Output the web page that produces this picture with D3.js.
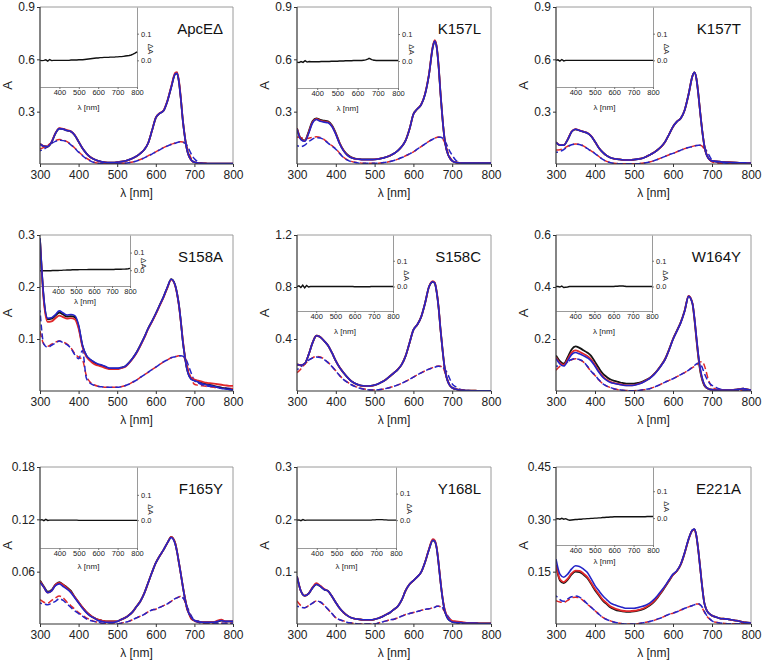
<!DOCTYPE html>
<html><head><meta charset="utf-8">
<script src="https://cdn.jsdelivr.net/npm/d3@7"></script>
<style>body{margin:0;background:#fff}svg{display:block}</style>
</head><body><svg id="c" width="763" height="663"></svg>
<script>
// ---------------- DATA ----------------
const wavelengths = [300,310,320,330,340,350,360,370,380,390,
 400,410,420,430,440,450,460,470,480,490,
 500,510,520,530,540,550,560,570,580,590,
 600,610,620,630,640,
 650,655,660,665,670,675,680,685,690,695,
 700,710,720,730,740,750,760,770,780,790,
 800];
const panelNames = ["ApcEΔ","K157L","K157T","S158A","S158C","W164Y","F165Y","Y168L","E221A"];
const yMaxValues = [0.9,0.9,0.9,0.3,1.2,0.6,0.18,0.3,0.45];
const yTickValues = [[0.3,0.6,0.9],[0.3,0.6,0.9],[0.3,0.6,0.9],[0.1,0.2,0.3],[0.4,0.8,1.2],[0.2,0.4,0.6],[0.06,0.12,0.18],[0.1,0.2,0.3],[0.15,0.30,0.45]];
const yTickDecimals = [1,1,1,1,1,1,2,1,2];
const xTickValues = [300,400,500,600,700,800];
const insetXTicks = [400,500,600,700,800];
const insetYTicks = [0.0,0.1];
const insetYMin = [-0.1,-0.1,-0.1,-0.09,-0.095,-0.095,-0.11,-0.105,-0.1];
const insetYMax = [0.2,0.2,0.2,0.2,0.2,0.2,0.21,0.2,0.19];

// ApcEΔ
const apcBlack = [0.115,0.102,0.100,0.125,0.175,0.203,0.200,0.192,0.186,0.165, 0.128,0.090,0.061,0.040,0.027,0.018,0.012,0.009,0.008,0.008, 0.010,0.013,0.017,0.024,0.033,0.045,0.061,0.082,0.119,0.190, 0.265,0.290,0.305,0.360,0.440, 0.515,0.520,0.470,0.370,0.250,0.160,0.090,0.050,0.028,0.016, 0.010,0.006,0.004,0.003,0.002,0.002,0.002,0.002,0.002,0.002, 0.002];
const apcRed = [0.116,0.103,0.101,0.127,0.177,0.206,0.202,0.194,0.187,0.166, 0.128,0.090,0.061,0.040,0.027,0.018,0.012,0.009,0.008,0.008, 0.010,0.013,0.017,0.024,0.033,0.045,0.061,0.082,0.119,0.190, 0.266,0.291,0.307,0.362,0.444, 0.522,0.527,0.476,0.374,0.252,0.161,0.091,0.050,0.028,0.016, 0.010,0.006,0.004,0.003,0.002,0.002,0.002,0.002,0.002,0.002, 0.002];
const apcBlue = [0.115,0.102,0.100,0.125,0.175,0.203,0.200,0.192,0.186,0.165, 0.128,0.090,0.061,0.040,0.027,0.018,0.012,0.009,0.008,0.008, 0.010,0.013,0.017,0.024,0.033,0.045,0.061,0.082,0.119,0.190, 0.265,0.290,0.305,0.360,0.440, 0.515,0.520,0.470,0.370,0.250,0.160,0.090,0.050,0.028,0.016, 0.010,0.006,0.004,0.003,0.002,0.002,0.002,0.002,0.002,0.002, 0.002];
const apcDashRed = [0.085,0.095,0.108,0.122,0.134,0.140,0.138,0.128,0.112,0.092, 0.070,0.050,0.033,0.020,0.010,0.005,0.003,0.002,0.001,0.001, 0.002,0.003,0.005,0.008,0.012,0.018,0.026,0.036,0.047,0.058, 0.070,0.082,0.094,0.104,0.113, 0.120,0.124,0.127,0.128,0.126,0.118,0.100,0.070,0.040,0.020, 0.010,0.004,0.002,0.001,0.001,0.001,0.001,0.001,0.001,0.001, 0.001];
const apcDashBlue = [0.075,0.085,0.100,0.118,0.130,0.136,0.134,0.126,0.110,0.090, 0.068,0.048,0.030,0.018,0.009,0.004,0.002,0.001,0.001,0.001, 0.001,0.002,0.004,0.007,0.011,0.017,0.025,0.035,0.046,0.057, 0.069,0.081,0.093,0.103,0.112, 0.119,0.123,0.126,0.127,0.125,0.120,0.110,0.090,0.065,0.045, 0.030,0.012,0.004,0.002,0.001,0.001,0.001,0.001,0.001,0.001, 0.001];
const apcDiff = [0.000,-0.001,0.000,0.002,-0.003,0.003,-0.001,0.000,0.000,0.000, 0.000,0.000,0.000,0.000,0.000,0.000,0.001,0.001,0.001,0.001, 0.002,0.002,0.002,0.003,0.004,0.005,0.006,0.007,0.008,0.009, 0.009,0.010,0.010,0.011,0.011, 0.011,0.011,0.012,0.012,0.012,0.012,0.012,0.012,0.013,0.013, 0.013,0.014,0.014,0.015,0.016,0.017,0.018,0.020,0.023,0.027, 0.032];

// K157L
const k157lBlack = [0.205,0.145,0.135,0.185,0.245,0.262,0.253,0.248,0.244,0.222, 0.177,0.120,0.079,0.053,0.038,0.031,0.028,0.026,0.026,0.026, 0.026,0.029,0.033,0.040,0.048,0.060,0.077,0.100,0.135,0.200, 0.285,0.315,0.340,0.400,0.510, 0.670,0.705,0.670,0.560,0.400,0.260,0.150,0.085,0.050,0.030, 0.018,0.009,0.006,0.005,0.005,0.005,0.005,0.005,0.005,0.005, 0.005];
const k157lRed = [0.203,0.143,0.133,0.180,0.240,0.258,0.249,0.244,0.240,0.218, 0.173,0.118,0.077,0.051,0.037,0.030,0.027,0.025,0.025,0.025, 0.026,0.029,0.033,0.040,0.048,0.060,0.077,0.100,0.135,0.200, 0.285,0.315,0.341,0.402,0.512, 0.675,0.710,0.674,0.562,0.401,0.260,0.150,0.085,0.050,0.030, 0.018,0.009,0.006,0.005,0.005,0.005,0.005,0.005,0.005,0.005, 0.005];
const k157lBlue = [0.200,0.140,0.130,0.175,0.235,0.255,0.245,0.240,0.236,0.215, 0.170,0.115,0.075,0.050,0.036,0.030,0.027,0.025,0.025,0.025, 0.026,0.029,0.033,0.040,0.048,0.060,0.077,0.100,0.135,0.200, 0.285,0.315,0.340,0.400,0.510, 0.670,0.705,0.670,0.560,0.400,0.260,0.150,0.085,0.050,0.030, 0.018,0.009,0.006,0.005,0.005,0.005,0.005,0.005,0.005,0.005, 0.005];
const k157lDashRed = [0.155,0.150,0.146,0.148,0.153,0.156,0.152,0.140,0.122,0.105, 0.087,0.062,0.039,0.024,0.015,0.010,0.007,0.005,0.004,0.004, 0.004,0.005,0.007,0.010,0.014,0.020,0.028,0.037,0.047,0.058, 0.070,0.085,0.100,0.115,0.130, 0.143,0.148,0.152,0.155,0.154,0.145,0.126,0.095,0.060,0.035, 0.020,0.008,0.004,0.003,0.003,0.003,0.003,0.003,0.003,0.003, 0.003];
const k157lDashBlue = [0.105,0.100,0.108,0.128,0.143,0.151,0.149,0.138,0.120,0.103, 0.085,0.060,0.037,0.022,0.013,0.008,0.005,0.004,0.004,0.004, 0.004,0.005,0.007,0.010,0.014,0.020,0.028,0.037,0.047,0.058, 0.070,0.085,0.100,0.115,0.130, 0.142,0.147,0.151,0.154,0.153,0.148,0.135,0.115,0.090,0.068, 0.050,0.020,0.008,0.004,0.003,0.003,0.003,0.003,0.003,0.003, 0.003];
const k157lDiff = [-0.004,-0.006,-0.002,-0.005,0.001,-0.004,-0.002,-0.003,-0.003,-0.003, -0.003,-0.003,-0.002,-0.002,-0.002,-0.002,-0.002,-0.001,-0.001,-0.001, -0.001,0.000,0.000,0.000,0.001,0.001,0.001,0.001,0.002,0.002, 0.002,0.002,0.002,0.003,0.004, 0.007,0.009,0.009,0.007,0.005,0.004,0.003,0.003,0.002,0.002, 0.002,0.002,0.002,0.002,0.002,0.002,0.002,0.002,0.002,0.002, 0.002];

// K157T
const k157tBlack = [0.124,0.108,0.108,0.140,0.185,0.199,0.192,0.185,0.178,0.160, 0.128,0.092,0.067,0.048,0.036,0.030,0.027,0.024,0.023,0.023, 0.025,0.028,0.032,0.040,0.052,0.064,0.080,0.100,0.128,0.170, 0.214,0.243,0.262,0.310,0.400, 0.505,0.525,0.490,0.400,0.290,0.190,0.110,0.060,0.035,0.023, 0.018,0.015,0.013,0.011,0.010,0.009,0.008,0.007,0.007,0.006, 0.006];
const k157tRed = [0.125,0.109,0.109,0.141,0.186,0.200,0.193,0.186,0.179,0.161, 0.128,0.092,0.067,0.048,0.036,0.030,0.027,0.024,0.023,0.023, 0.025,0.028,0.032,0.040,0.052,0.064,0.080,0.100,0.128,0.170, 0.214,0.243,0.262,0.310,0.400, 0.505,0.525,0.490,0.400,0.290,0.190,0.110,0.060,0.035,0.023, 0.018,0.015,0.013,0.011,0.010,0.009,0.008,0.007,0.007,0.006, 0.006];
const k157tBlue = [0.124,0.108,0.108,0.140,0.185,0.199,0.192,0.185,0.178,0.160, 0.128,0.092,0.067,0.048,0.036,0.030,0.027,0.024,0.023,0.023, 0.025,0.028,0.032,0.040,0.052,0.064,0.080,0.100,0.128,0.170, 0.214,0.243,0.262,0.310,0.400, 0.505,0.525,0.490,0.400,0.290,0.190,0.110,0.060,0.035,0.023, 0.018,0.015,0.013,0.011,0.010,0.009,0.008,0.007,0.007,0.006, 0.006];
const k157tDashRed = [0.080,0.082,0.090,0.102,0.112,0.115,0.113,0.104,0.090,0.075, 0.061,0.043,0.027,0.015,0.008,0.004,0.002,0.001,0.001,0.001, 0.001,0.002,0.004,0.007,0.012,0.018,0.026,0.035,0.044,0.053, 0.061,0.070,0.079,0.088,0.095, 0.101,0.104,0.107,0.109,0.108,0.102,0.085,0.062,0.040,0.022, 0.013,0.007,0.004,0.003,0.003,0.003,0.003,0.003,0.003,0.003, 0.003];
const k157tDashBlue = [0.067,0.072,0.083,0.098,0.110,0.114,0.112,0.103,0.089,0.074, 0.060,0.042,0.026,0.014,0.007,0.003,0.002,0.001,0.001,0.001, 0.001,0.002,0.004,0.007,0.012,0.018,0.026,0.035,0.044,0.053, 0.061,0.070,0.079,0.088,0.095, 0.100,0.103,0.106,0.108,0.107,0.104,0.095,0.080,0.060,0.040, 0.023,0.013,0.008,0.005,0.004,0.003,0.003,0.003,0.003,0.003, 0.003];
const k157tDiff = [0.000,0.002,-0.003,0.003,-0.002,0.000,0.000,0.000,0.000,0.000, 0.000,0.000,0.000,0.000,0.000,0.000,0.000,0.000,0.000,0.000, 0.000,0.000,0.000,0.000,0.000,0.000,0.000,0.000,0.000,0.000, 0.000,0.000,0.000,0.000,0.000, 0.000,0.000,0.000,0.000,0.000,0.000,0.000,0.000,0.000,0.000, 0.000,0.000,0.000,0.000,0.000,0.000,0.000,0.000,0.000,0.000, 0.000];

// S158A
const s158aBlack = [0.292,0.176,0.138,0.139,0.145,0.151,0.147,0.143,0.144,0.142, 0.124,0.087,0.068,0.060,0.055,0.051,0.049,0.046,0.043,0.043, 0.043,0.045,0.047,0.054,0.063,0.074,0.088,0.103,0.120,0.134, 0.149,0.165,0.181,0.199,0.215, 0.204,0.188,0.165,0.133,0.096,0.068,0.045,0.032,0.025,0.022, 0.021,0.018,0.015,0.013,0.012,0.010,0.008,0.006,0.005,0.003, 0.002];
const s158aRed = [0.290,0.172,0.133,0.134,0.140,0.145,0.142,0.139,0.140,0.138, 0.120,0.085,0.066,0.058,0.052,0.049,0.047,0.044,0.042,0.042, 0.042,0.044,0.046,0.053,0.062,0.073,0.087,0.102,0.119,0.133, 0.148,0.164,0.180,0.199,0.214, 0.203,0.187,0.164,0.132,0.098,0.069,0.047,0.034,0.027,0.024, 0.022,0.020,0.018,0.016,0.015,0.014,0.013,0.012,0.011,0.010, 0.010];
const s158aBlue = [0.294,0.178,0.140,0.141,0.147,0.154,0.150,0.146,0.147,0.145, 0.127,0.088,0.069,0.061,0.056,0.052,0.050,0.047,0.044,0.044, 0.044,0.045,0.047,0.054,0.063,0.074,0.088,0.103,0.120,0.134, 0.149,0.165,0.181,0.200,0.215, 0.204,0.188,0.165,0.133,0.095,0.068,0.044,0.031,0.024,0.021, 0.020,0.017,0.014,0.012,0.011,0.009,0.007,0.005,0.004,0.003, 0.002];
const s158aDashRed = [0.115,0.090,0.086,0.090,0.094,0.096,0.094,0.090,0.083,0.072, 0.065,0.060,0.030,0.017,0.012,0.009,0.008,0.007,0.007,0.007, 0.007,0.008,0.010,0.013,0.017,0.021,0.026,0.031,0.036,0.041, 0.046,0.051,0.056,0.060,0.064, 0.066,0.067,0.068,0.068,0.067,0.062,0.052,0.038,0.026,0.018, 0.013,0.011,0.010,0.009,0.008,0.007,0.006,0.006,0.005,0.005, 0.005];
const s158aDashBlue = [0.155,0.090,0.084,0.088,0.092,0.096,0.093,0.089,0.082,0.070, 0.062,0.078,0.025,0.015,0.011,0.009,0.008,0.007,0.007,0.007, 0.007,0.008,0.010,0.013,0.017,0.021,0.026,0.031,0.036,0.041, 0.046,0.051,0.056,0.060,0.064, 0.066,0.067,0.068,0.068,0.067,0.064,0.058,0.048,0.038,0.028, 0.020,0.015,0.012,0.010,0.009,0.008,0.007,0.007,0.006,0.005, 0.005];
const s158aDiff = [-0.003,-0.003,-0.003,-0.003,-0.003,-0.003,-0.003,-0.002,-0.002,-0.002, -0.002,-0.001,-0.001,0.000,0.000,0.001,0.001,0.001,0.002,0.002, 0.002,0.002,0.003,0.003,0.003,0.003,0.003,0.004,0.004,0.004, 0.004,0.004,0.004,0.004,0.004, 0.004,0.004,0.004,0.004,0.004,0.004,0.004,0.004,0.004,0.004, 0.004,0.004,0.005,0.005,0.005,0.005,0.006,0.006,0.007,0.008, 0.010];

// S158C
const s158cBlack = [0.204,0.198,0.210,0.280,0.370,0.425,0.415,0.385,0.350,0.295, 0.232,0.180,0.140,0.105,0.076,0.058,0.046,0.040,0.038,0.040, 0.046,0.056,0.071,0.090,0.115,0.140,0.166,0.205,0.270,0.370, 0.470,0.510,0.570,0.675,0.800, 0.840,0.830,0.760,0.640,0.470,0.320,0.190,0.110,0.064,0.038, 0.025,0.014,0.008,0.005,0.003,0.002,0.002,0.001,0.001,0.001, 0.001];
const s158cRed = [0.204,0.198,0.210,0.280,0.370,0.425,0.415,0.385,0.350,0.295, 0.232,0.180,0.140,0.105,0.076,0.058,0.046,0.040,0.038,0.040, 0.046,0.056,0.071,0.090,0.115,0.140,0.166,0.205,0.270,0.370, 0.470,0.510,0.570,0.675,0.800, 0.845,0.835,0.765,0.642,0.470,0.320,0.190,0.110,0.064,0.038, 0.025,0.014,0.008,0.005,0.003,0.002,0.002,0.001,0.001,0.001, 0.001];
const s158cBlue = [0.204,0.198,0.210,0.280,0.370,0.425,0.415,0.385,0.350,0.295, 0.232,0.180,0.140,0.105,0.076,0.058,0.046,0.040,0.038,0.040, 0.046,0.056,0.071,0.090,0.115,0.140,0.166,0.205,0.270,0.370, 0.470,0.510,0.570,0.675,0.800, 0.840,0.830,0.760,0.640,0.470,0.320,0.190,0.110,0.064,0.038, 0.025,0.014,0.008,0.005,0.003,0.002,0.002,0.001,0.001,0.001, 0.001];
const s158cDashRed = [0.140,0.170,0.205,0.235,0.255,0.266,0.262,0.245,0.220,0.190, 0.155,0.120,0.090,0.068,0.050,0.036,0.025,0.017,0.012,0.008, 0.008,0.010,0.014,0.020,0.027,0.036,0.047,0.060,0.074,0.090, 0.107,0.124,0.140,0.155,0.168, 0.180,0.185,0.190,0.192,0.190,0.178,0.155,0.115,0.070,0.040, 0.025,0.010,0.005,0.003,0.002,0.001,0.001,0.001,0.001,0.001, 0.001];
const s158cDashBlue = [0.165,0.185,0.212,0.238,0.254,0.262,0.258,0.243,0.218,0.188, 0.153,0.118,0.088,0.066,0.048,0.034,0.023,0.016,0.011,0.008, 0.008,0.010,0.014,0.020,0.027,0.036,0.047,0.060,0.074,0.090, 0.107,0.124,0.140,0.155,0.168, 0.178,0.183,0.188,0.190,0.189,0.183,0.170,0.150,0.120,0.085, 0.055,0.030,0.013,0.006,0.003,0.002,0.001,0.001,0.001,0.001, 0.001];
const s158cDiff = [0.000,0.003,-0.004,0.005,-0.005,0.004,-0.002,0.000,0.000,0.000, 0.000,0.000,0.000,0.000,0.000,0.000,0.000,0.000,0.000,0.000, 0.000,0.000,0.000,0.000,0.000,0.000,0.000,0.000,0.000,0.000, -0.001,-0.001,-0.001,-0.001,-0.001, -0.001,-0.001,-0.001,-0.001,-0.001,-0.001,-0.001,0.000,0.000,0.000, 0.000,0.000,0.000,0.000,0.000,0.000,0.000,0.000,0.000,0.000, 0.000];

// W164Y
const w164yBlack = [0.137,0.115,0.105,0.130,0.160,0.172,0.166,0.157,0.148,0.135, 0.112,0.088,0.067,0.054,0.044,0.039,0.035,0.031,0.028,0.028, 0.028,0.031,0.035,0.042,0.050,0.063,0.080,0.100,0.124,0.160, 0.200,0.232,0.265,0.310,0.365, 0.335,0.275,0.200,0.130,0.075,0.042,0.022,0.013,0.009,0.006, 0.005,0.004,0.004,0.004,0.004,0.004,0.005,0.007,0.009,0.006, 0.003];
const w164yRed = [0.130,0.108,0.100,0.122,0.148,0.156,0.151,0.143,0.135,0.122, 0.100,0.076,0.056,0.043,0.035,0.030,0.027,0.024,0.022,0.022, 0.023,0.027,0.032,0.040,0.049,0.062,0.079,0.099,0.123,0.159, 0.199,0.231,0.264,0.309,0.366, 0.337,0.280,0.205,0.135,0.080,0.046,0.025,0.014,0.009,0.006, 0.005,0.004,0.004,0.004,0.004,0.004,0.005,0.007,0.009,0.006, 0.003];
const w164yBlue = [0.125,0.104,0.096,0.116,0.140,0.148,0.143,0.136,0.128,0.116, 0.095,0.072,0.053,0.041,0.033,0.029,0.026,0.023,0.021,0.021, 0.022,0.026,0.031,0.039,0.048,0.061,0.078,0.098,0.122,0.158, 0.198,0.230,0.263,0.308,0.364, 0.336,0.282,0.210,0.140,0.085,0.050,0.027,0.015,0.009,0.006, 0.005,0.004,0.004,0.004,0.004,0.004,0.005,0.007,0.009,0.006, 0.003];
const w164yDashRed = [0.080,0.095,0.100,0.112,0.120,0.124,0.120,0.112,0.095,0.075, 0.060,0.042,0.028,0.019,0.013,0.008,0.005,0.003,0.002,0.001, 0.001,0.002,0.004,0.006,0.009,0.014,0.020,0.027,0.034,0.041, 0.047,0.055,0.063,0.071,0.080, 0.090,0.095,0.100,0.106,0.112,0.113,0.100,0.075,0.047,0.028, 0.015,0.008,0.005,0.003,0.002,0.002,0.002,0.002,0.002,0.002, 0.002];
const w164yDashBlue = [0.095,0.098,0.102,0.113,0.121,0.124,0.121,0.113,0.096,0.076, 0.061,0.043,0.028,0.019,0.013,0.008,0.005,0.003,0.002,0.001, 0.001,0.002,0.004,0.006,0.009,0.014,0.020,0.027,0.034,0.041, 0.047,0.055,0.063,0.071,0.080, 0.092,0.098,0.104,0.108,0.105,0.090,0.070,0.052,0.038,0.028, 0.022,0.014,0.008,0.005,0.003,0.002,0.002,0.002,0.002,0.002, 0.002];
const w164yDiff = [0.000,0.000,-0.002,0.002,-0.004,-0.003,-0.002,0.000,0.000,0.000, 0.000,0.000,0.000,0.000,0.000,0.000,0.000,0.000,0.000,0.000, 0.000,0.000,0.000,0.000,0.000,0.000,0.000,0.000,0.000,0.000, 0.000,0.001,0.001,0.002,0.002, 0.002,0.001,0.001,0.000,0.000,0.000,0.000,0.000,0.000,0.000, 0.000,0.000,0.000,0.000,0.000,0.000,0.000,0.000,0.000,0.000, 0.000];

// F165Y
const f165yBlack = [0.050,0.043,0.037,0.039,0.045,0.048,0.045,0.042,0.038,0.031, 0.025,0.019,0.014,0.010,0.007,0.005,0.004,0.003,0.003,0.003, 0.003,0.005,0.007,0.010,0.014,0.020,0.026,0.035,0.047,0.059, 0.070,0.078,0.085,0.093,0.100, 0.093,0.083,0.070,0.057,0.043,0.031,0.020,0.013,0.009,0.005, 0.004,0.003,0.002,0.002,0.002,0.002,0.003,0.004,0.003,0.003, 0.003];
const f165yRed = [0.049,0.042,0.036,0.038,0.045,0.047,0.045,0.041,0.037,0.031, 0.025,0.019,0.014,0.010,0.007,0.005,0.004,0.003,0.003,0.003, 0.003,0.005,0.007,0.010,0.014,0.020,0.026,0.035,0.047,0.059, 0.070,0.078,0.085,0.093,0.100, 0.093,0.083,0.070,0.057,0.043,0.031,0.020,0.013,0.009,0.005, 0.004,0.003,0.002,0.002,0.002,0.002,0.004,0.005,0.003,0.003, 0.003];
const f165yBlue = [0.048,0.042,0.036,0.038,0.044,0.046,0.043,0.040,0.036,0.030, 0.024,0.018,0.013,0.009,0.007,0.004,0.003,0.002,0.002,0.002, 0.003,0.005,0.007,0.010,0.014,0.020,0.026,0.035,0.047,0.059, 0.070,0.078,0.085,0.093,0.099, 0.092,0.083,0.070,0.057,0.043,0.030,0.020,0.013,0.009,0.006, 0.004,0.003,0.002,0.002,0.002,0.002,0.003,0.004,0.003,0.003, 0.003];
const f165yDashRed = [0.028,0.025,0.024,0.027,0.030,0.032,0.030,0.025,0.021,0.017, 0.013,0.010,0.007,0.005,0.003,0.002,0.001,0.001,0.000,0.000, 0.000,0.001,0.002,0.003,0.005,0.007,0.009,0.011,0.014,0.016, 0.017,0.019,0.021,0.023,0.026, 0.029,0.030,0.031,0.032,0.031,0.026,0.018,0.012,0.007,0.004, 0.003,0.002,0.001,0.001,0.001,0.001,0.001,0.001,0.001,0.001, 0.001];
const f165yDashBlue = [0.024,0.023,0.022,0.024,0.026,0.029,0.027,0.023,0.019,0.015, 0.012,0.009,0.006,0.004,0.003,0.002,0.001,0.000,0.000,0.000, 0.000,0.001,0.002,0.003,0.005,0.007,0.009,0.011,0.014,0.016, 0.017,0.019,0.021,0.023,0.026, 0.029,0.030,0.031,0.031,0.030,0.027,0.021,0.016,0.011,0.007, 0.004,0.002,0.001,0.001,0.001,0.001,0.001,0.001,0.001,0.001, 0.001];
const f165yDiff = [0.000,0.002,-0.002,0.003,-0.001,0.000,0.000,0.000,0.000,0.000, 0.000,0.000,0.000,0.000,0.000,0.000,0.000,0.000,0.000,0.000, -0.001,-0.001,-0.001,-0.001,-0.001,-0.001,-0.001,-0.001,-0.001,-0.001, -0.001,-0.001,-0.001,-0.001,-0.001, -0.001,-0.001,-0.001,-0.001,-0.001,-0.001,-0.001,-0.001,-0.001,-0.001, -0.001,-0.001,-0.001,-0.001,-0.001,-0.001,-0.001,-0.001,-0.001,-0.001, -0.001];

// Y168L
const y168lBlack = [0.091,0.063,0.054,0.058,0.069,0.076,0.072,0.066,0.063,0.053, 0.041,0.030,0.022,0.016,0.012,0.010,0.009,0.008,0.008,0.008, 0.009,0.011,0.014,0.018,0.022,0.028,0.034,0.046,0.064,0.076, 0.083,0.090,0.099,0.118,0.142, 0.160,0.158,0.145,0.115,0.080,0.050,0.028,0.016,0.009,0.006, 0.004,0.003,0.003,0.002,0.002,0.002,0.002,0.001,0.001,0.001, 0.001];
const y168lRed = [0.091,0.063,0.054,0.058,0.070,0.078,0.073,0.067,0.063,0.053, 0.041,0.030,0.022,0.016,0.012,0.010,0.009,0.008,0.008,0.008, 0.009,0.011,0.014,0.018,0.022,0.028,0.034,0.046,0.064,0.076, 0.083,0.090,0.099,0.118,0.143, 0.162,0.160,0.146,0.116,0.081,0.051,0.030,0.018,0.011,0.008, 0.006,0.005,0.004,0.003,0.002,0.002,0.002,0.001,0.001,0.001, 0.001];
const y168lBlue = [0.091,0.063,0.054,0.058,0.069,0.076,0.072,0.066,0.063,0.053, 0.041,0.030,0.022,0.016,0.012,0.010,0.009,0.008,0.008,0.008, 0.009,0.011,0.014,0.018,0.022,0.028,0.034,0.046,0.064,0.076, 0.083,0.090,0.099,0.118,0.142, 0.160,0.158,0.145,0.115,0.080,0.050,0.028,0.016,0.009,0.006, 0.004,0.003,0.003,0.002,0.002,0.002,0.002,0.001,0.001,0.001, 0.001];
const y168lDashRed = [0.044,0.035,0.031,0.035,0.040,0.044,0.042,0.036,0.028,0.020, 0.012,0.008,0.006,0.003,0.002,0.001,0.000,0.000,0.000,0.000, 0.000,0.002,0.004,0.006,0.008,0.009,0.012,0.015,0.018,0.020, 0.022,0.024,0.026,0.028,0.029, 0.031,0.032,0.034,0.034,0.033,0.030,0.024,0.017,0.012,0.008, 0.006,0.003,0.001,0.000,0.000,0.000,0.000,0.000,0.000,0.000, 0.000];
const y168lDashBlue = [0.034,0.032,0.031,0.035,0.040,0.044,0.042,0.036,0.028,0.020, 0.012,0.008,0.006,0.003,0.002,0.001,0.000,0.000,0.000,0.000, 0.000,0.002,0.004,0.006,0.008,0.009,0.012,0.015,0.018,0.020, 0.022,0.024,0.026,0.028,0.029, 0.031,0.032,0.034,0.034,0.033,0.031,0.026,0.020,0.014,0.009, 0.006,0.003,0.001,0.000,0.000,0.000,0.000,0.000,0.000,0.000, 0.000];
const y168lDiff = [0.000,0.001,-0.002,0.002,-0.001,0.000,0.000,0.000,0.000,0.000, 0.000,0.000,0.000,0.000,0.000,0.000,0.000,0.000,0.000,0.000, 0.000,0.000,0.000,0.000,0.000,0.000,0.000,0.000,0.000,0.000, 0.000,0.000,0.000,0.000,0.000, 0.000,0.000,0.000,0.000,0.000,0.000,0.001,0.001,0.001,0.001, 0.002,0.002,0.002,0.002,0.001,0.001,0.000,0.000,0.000,0.000, 0.000];

// E221A
const e221aBlack = [0.168,0.125,0.117,0.127,0.142,0.150,0.149,0.142,0.132,0.115, 0.097,0.082,0.067,0.057,0.047,0.042,0.038,0.036,0.035,0.035, 0.036,0.038,0.041,0.046,0.053,0.062,0.075,0.090,0.107,0.124, 0.141,0.152,0.171,0.204,0.243, 0.269,0.271,0.252,0.210,0.158,0.105,0.062,0.043,0.033,0.028, 0.024,0.020,0.016,0.015,0.014,0.012,0.010,0.008,0.005,0.004, 0.003];
const e221aRed = [0.170,0.128,0.120,0.130,0.145,0.153,0.152,0.145,0.135,0.118, 0.100,0.085,0.070,0.060,0.050,0.045,0.041,0.038,0.037,0.037, 0.038,0.040,0.043,0.048,0.055,0.064,0.077,0.092,0.108,0.125, 0.141,0.152,0.171,0.204,0.243, 0.269,0.271,0.252,0.210,0.158,0.105,0.062,0.043,0.033,0.028, 0.024,0.020,0.016,0.015,0.014,0.012,0.010,0.008,0.005,0.004, 0.003];
const e221aBlue = [0.186,0.143,0.134,0.143,0.158,0.167,0.165,0.158,0.148,0.130, 0.110,0.095,0.081,0.070,0.060,0.055,0.051,0.048,0.045,0.045, 0.045,0.047,0.050,0.054,0.060,0.069,0.081,0.095,0.110,0.127, 0.143,0.153,0.172,0.205,0.244, 0.270,0.272,0.253,0.210,0.158,0.105,0.062,0.043,0.033,0.028, 0.024,0.020,0.016,0.015,0.014,0.012,0.010,0.008,0.005,0.004, 0.003];
const e221aDashRed = [0.067,0.063,0.062,0.068,0.075,0.077,0.075,0.067,0.057,0.048, 0.038,0.028,0.019,0.013,0.009,0.005,0.003,0.001,0.000,0.000, 0.000,0.001,0.003,0.005,0.007,0.010,0.014,0.018,0.023,0.028, 0.031,0.035,0.040,0.045,0.049, 0.053,0.055,0.057,0.057,0.054,0.046,0.035,0.025,0.018,0.013, 0.009,0.005,0.003,0.002,0.001,0.001,0.001,0.001,0.001,0.001, 0.001];
const e221aDashBlue = [0.081,0.070,0.065,0.072,0.078,0.080,0.077,0.069,0.058,0.048, 0.038,0.028,0.019,0.013,0.009,0.005,0.003,0.001,0.000,0.000, 0.000,0.001,0.003,0.005,0.007,0.010,0.014,0.018,0.023,0.028, 0.031,0.035,0.040,0.045,0.049, 0.053,0.055,0.057,0.058,0.055,0.048,0.037,0.027,0.020,0.014, 0.009,0.005,0.003,0.002,0.001,0.001,0.001,0.001,0.001,0.001, 0.001];
const e221aDiff = [-0.003,-0.002,-0.004,-0.001,-0.004,-0.002,-0.006,-0.008,-0.007,-0.006, -0.005,-0.005,-0.004,-0.004,-0.003,-0.003,-0.002,-0.002,-0.001,-0.001, 0.000,0.000,0.001,0.001,0.002,0.002,0.003,0.003,0.004,0.004, 0.005,0.005,0.005,0.005,0.005, 0.005,0.005,0.005,0.005,0.005,0.005,0.005,0.005,0.005,0.005, 0.005,0.005,0.005,0.005,0.005,0.005,0.005,0.006,0.006,0.006, 0.006];

const seriesByPanel = [
  [apcBlack, apcRed, apcBlue, apcDashRed, apcDashBlue, apcDiff],
  [k157lBlack, k157lRed, k157lBlue, k157lDashRed, k157lDashBlue, k157lDiff],
  [k157tBlack, k157tRed, k157tBlue, k157tDashRed, k157tDashBlue, k157tDiff],
  [s158aBlack, s158aRed, s158aBlue, s158aDashRed, s158aDashBlue, s158aDiff],
  [s158cBlack, s158cRed, s158cBlue, s158cDashRed, s158cDashBlue, s158cDiff],
  [w164yBlack, w164yRed, w164yBlue, w164yDashRed, w164yDashBlue, w164yDiff],
  [f165yBlack, f165yRed, f165yBlue, f165yDashRed, f165yDashBlue, f165yDiff],
  [y168lBlack, y168lRed, y168lBlue, y168lDashRed, y168lDashBlue, y168lDiff],
  [e221aBlack, e221aRed, e221aBlue, e221aDashRed, e221aDashBlue, e221aDiff]
];

// ---------------- LAYOUT ----------------
const colLeft = [40, 297, 556], colRight = [233, 491, 751];
const rowTop = [7, 235, 467], rowBottom = [164, 391, 624];
const insetRight = [137, 398, 653, 130, 393, 652, 137, 396, 653];
const insetBottom = [87, 88, 87, 286, 311, 311, 548, 548, 545];
const insetLabelGap = [20, 20, 20, 15, 20, 20, 18, 18, 16];
const FONT = "'Liberation Sans', Arial, Helvetica, sans-serif";
const C_BLACK = "#151515", C_RED = "#e0282a", C_BLUE = "#2424c8";

seriesByPanel.forEach((s, i) => s.forEach((arr, j) => {
  if (arr.length !== wavelengths.length) console.error("length mismatch panel", i, "series", j, arr.length);
}));

const svg = d3.select("#c");
svg.append("rect").attr("width", 763).attr("height", 663).attr("fill", "#fff");

panelNames.forEach((name, i) => {
  const r = Math.floor(i / 3), c = i % 3;
  const L = {left: colLeft[c], right: colRight[c], top: rowTop[r], bottom: rowBottom[r]};
  const g = svg.append("g").attr("font-family", FONT);
  const x = d3.scaleLinear().domain([300, 800]).range([L.left, L.right]);
  const y = d3.scaleLinear().domain([0, yMaxValues[i]]).range([L.bottom, L.top]);

  // frame (top/right)
  g.append("line").attr("x1", L.left).attr("x2", L.right).attr("y1", L.top).attr("y2", L.top).attr("stroke", "#9a9a9a").attr("stroke-width", 1);
  g.append("line").attr("x1", L.right).attr("x2", L.right).attr("y1", L.top).attr("y2", L.bottom).attr("stroke", "#9a9a9a").attr("stroke-width", 1);

  // inset
  const xi = d3.scaleLinear().domain([300, 800]).range([L.left, insetRight[i]]);
  const yi = d3.scaleLinear().domain([insetYMin[i], insetYMax[i]]).range([insetBottom[i], L.top]);
  const ia = g.append("g").attr("transform", `translate(${insetRight[i]},0)`)
    .call(d3.axisRight(yi).tickValues(insetYTicks).tickSize(2).tickSizeOuter(0).tickPadding(2).tickFormat(d3.format(".1f")));
  const ib = g.append("g").attr("transform", `translate(0,${insetBottom[i]})`)
    .call(d3.axisBottom(xi).tickValues(insetXTicks).tickSize(2).tickSizeOuter(0).tickPadding(1).tickFormat(d3.format("d")));
  [ia, ib].forEach(a => {
    a.attr("font-family", FONT).attr("font-size", 7.5);
    a.select(".domain").attr("stroke", "#9a9a9a");
    a.selectAll(".tick line").attr("stroke", "#777");
    a.selectAll("text").attr("fill", "#222");
  });
  g.append("text").attr("x", (L.left + insetRight[i]) / 2).attr("y", insetBottom[i] + insetLabelGap[i] + 3)
    .attr("text-anchor", "middle").attr("font-size", 8).attr("fill", "#222").text("λ [nm]");
  const midY = (yi(0) + yi(0.1)) / 2 + 2;
  g.append("text").attr("transform", `translate(${insetRight[i] + 11},${midY}) rotate(90)`)
    .attr("text-anchor", "middle").attr("font-size", 8).attr("fill", "#222").text("ΔA");
  g.append("path").datum(seriesByPanel[i][5])
    .attr("fill", "none").attr("stroke", "#111").attr("stroke-width", 1.4)
    .attr("d", d3.line().x((d, k) => xi(wavelengths[k])).y(d => yi(d)).curve(d3.curveLinear));

  // main curves
  const line = d3.line().x((d, k) => x(wavelengths[k])).y(d => y(d)).curve(d3.curveMonotoneX);
  const clipId = "clip" + i;
  g.append("clipPath").attr("id", clipId).append("rect")
    .attr("x", L.left).attr("y", L.top - 1).attr("width", L.right - L.left).attr("height", L.bottom - L.top + 1);
  const cg = g.append("g").attr("clip-path", `url(#${clipId})`);
  const s = seriesByPanel[i];
  cg.append("path").datum(s[3]).attr("fill", "none").attr("stroke", C_RED).attr("stroke-width", 1.5)
    .attr("stroke-dasharray", "6,3").attr("d", line);
  cg.append("path").datum(s[4]).attr("fill", "none").attr("stroke", C_BLUE).attr("stroke-width", 1.5)
    .attr("stroke-dasharray", "6,3").attr("stroke-dashoffset", 4).attr("d", line);
  cg.append("path").datum(s[0]).attr("fill", "none").attr("stroke", C_BLACK).attr("stroke-width", 1.8).attr("d", line);
  cg.append("path").datum(s[1]).attr("fill", "none").attr("stroke", C_RED).attr("stroke-width", 1.8).attr("d", line);
  cg.append("path").datum(s[2]).attr("fill", "none").attr("stroke", C_BLUE).attr("stroke-width", 1.6).attr("d", line);

  // main axes
  const dec = yTickDecimals[i];
  const ax = g.append("g").attr("transform", `translate(0,${L.bottom})`)
    .call(d3.axisBottom(x).tickValues(xTickValues).tickSize(3).tickSizeOuter(0).tickPadding(3).tickFormat(d3.format("d")));
  const ay = g.append("g").attr("transform", `translate(${L.left},0)`)
    .call(d3.axisLeft(y).tickValues(yTickValues[i]).tickSize(3).tickSizeOuter(0).tickPadding(2).tickFormat(d3.format("." + dec + "f")));
  [ax, ay].forEach(a => {
    a.attr("font-family", FONT).attr("font-size", 12);
    a.select(".domain").attr("stroke", "#333").attr("stroke-width", 1.2);
    a.selectAll(".tick line").attr("stroke", "#333");
    a.selectAll("text").attr("fill", "#222");
  });
  ay.select(".domain").attr("d", `M0,${L.bottom}V${L.top}`);
  ax.select(".domain").attr("d", `M${L.left},0H${L.right}`);

  g.append("text").attr("x", (L.left + L.right) / 2).attr("y", L.bottom + 33)
    .attr("text-anchor", "middle").attr("font-size", 12).attr("fill", "#222").text("λ [nm]");
  g.append("text").attr("transform", `translate(${L.left - 28},${(L.top + L.bottom) / 2}) rotate(-90)`)
    .attr("text-anchor", "middle").attr("font-size", 13).attr("fill", "#222").text("A");
  g.append("text").attr("x", L.right - 10).attr("y", L.top + 27)
    .attr("text-anchor", "end").attr("font-size", 15).attr("fill", "#111").text(name);
});
</script></body></html>
